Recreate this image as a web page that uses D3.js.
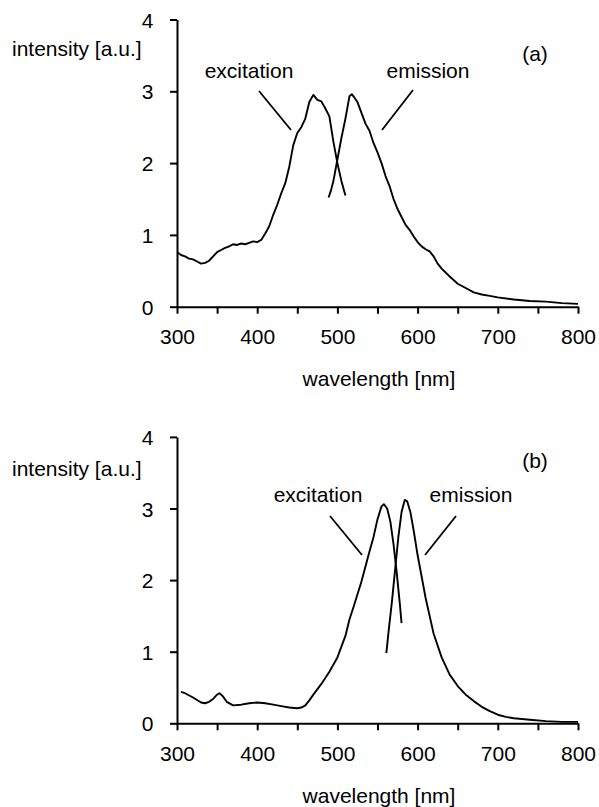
<!DOCTYPE html>
<meta charset="utf-8">
<head>
<script src="https://cdn.jsdelivr.net/npm/d3@7"></script>
<style>
body { margin: 0; background: #fff; }
svg text { font-family: "Liberation Sans", Arial, sans-serif; font-size: 21px; fill: #000; }
</style>
</head>
<body>
<svg id="chart"></svg>
<script>
// axis ticks
var xTicks = [300, 350, 400, 450, 500, 550, 600, 650, 700, 750, 800];
var yTicks = [0, 1, 2, 3, 4];

// panel (a)
var aExWl  = [300, 305, 310, 315, 320, 325, 330, 335, 340, 345, 350, 355, 360, 365, 370, 375, 380, 385, 390, 395, 400, 405, 410, 415, 420, 425, 430, 435, 440, 445, 450, 455, 460, 465, 470, 475, 480, 485, 490, 495, 500, 505, 510];
var aExVal = [0.76, 0.72, 0.70, 0.67, 0.66, 0.63, 0.60, 0.61, 0.64, 0.70, 0.76, 0.79, 0.82, 0.84, 0.87, 0.86, 0.88, 0.87, 0.89, 0.91, 0.90, 0.93, 1.02, 1.12, 1.28, 1.42, 1.58, 1.72, 1.95, 2.25, 2.42, 2.50, 2.62, 2.85, 2.95, 2.88, 2.86, 2.76, 2.65, 2.30, 2.00, 1.75, 1.55];
var aEmWl  = [489, 492, 495, 500, 505, 510, 515, 518, 520, 525, 530, 535, 540, 545, 550, 555, 560, 565, 570, 575, 580, 585, 590, 595, 600, 605, 610, 615, 620, 625, 630, 640, 650, 660, 670, 680, 690, 700, 720, 740, 760, 780, 800];
var aEmVal = [1.52, 1.62, 1.75, 2.05, 2.35, 2.62, 2.93, 2.96, 2.93, 2.85, 2.70, 2.55, 2.45, 2.28, 2.15, 2.00, 1.82, 1.68, 1.50, 1.36, 1.25, 1.14, 1.07, 0.98, 0.90, 0.84, 0.80, 0.77, 0.70, 0.60, 0.53, 0.42, 0.32, 0.26, 0.20, 0.17, 0.15, 0.13, 0.10, 0.08, 0.07, 0.05, 0.04];

// panel (b)
var bExWl  = [305, 310, 320, 330, 335, 340, 345, 350, 353, 357, 362, 370, 380, 390, 400, 410, 420, 430, 440, 450, 455, 460, 465, 470, 480, 490, 500, 510, 515, 520, 530, 540, 545, 550, 555, 558, 562, 566, 570, 574, 578, 580];
var bExVal = [0.44, 0.42, 0.36, 0.29, 0.28, 0.30, 0.34, 0.40, 0.42, 0.38, 0.30, 0.25, 0.26, 0.28, 0.29, 0.28, 0.26, 0.24, 0.22, 0.21, 0.22, 0.25, 0.32, 0.40, 0.55, 0.72, 0.92, 1.22, 1.45, 1.62, 1.98, 2.40, 2.60, 2.85, 3.03, 3.06, 3.00, 2.82, 2.50, 2.10, 1.65, 1.40];
var bEmWl  = [561, 564, 568, 572, 576, 580, 584, 587, 591, 595, 600, 605, 610, 615, 620, 630, 640, 650, 660, 670, 680, 690, 700, 710, 720, 740, 760, 780, 800];
var bEmVal = [0.98, 1.30, 1.70, 2.15, 2.60, 2.95, 3.12, 3.10, 2.95, 2.70, 2.35, 2.05, 1.75, 1.50, 1.25, 0.92, 0.68, 0.52, 0.40, 0.31, 0.23, 0.17, 0.12, 0.09, 0.07, 0.05, 0.03, 0.02, 0.02];

var width = 599, height = 807;
var svg = d3.select("#chart").attr("width", width).attr("height", height);

var x = d3.scaleLinear().domain([300, 800]).range([177, 578]);

var panels = [
  { tag: "(a)", y0: 306.7, y1: 19.5, ex: [aExWl, aExVal], em: [aEmWl, aEmVal],
    exLabel: [249, 78], exLine: [[259, 91], [291, 130]],
    emLabel: [428, 78], emLine: [[413, 90], [382, 130]], tagPos: [535, 61], yLab: 56 },
  { tag: "(b)", y0: 723.3, y1: 436.9, ex: [bExWl, bExVal], em: [bEmWl, bEmVal],
    exLabel: [318, 502], exLine: [[330, 516], [362, 555]],
    emLabel: [471, 502], emLine: [[456, 516], [425, 555]], tagPos: [535, 468], yLab: 476 }
];

panels.forEach(function(p) {
  var y = d3.scaleLinear().domain([0, 4]).range([p.y0, p.y1]);
  var g = svg.append("g");

  var xAxis = g.append("g")
    .attr("transform", "translate(0," + p.y0 + ")")
    .call(d3.axisBottom(x).tickValues(xTicks).tickSize(7).tickSizeOuter(0)
      .tickFormat(function(d) { return d % 100 === 0 ? d : ""; }));
  xAxis.selectAll("text").attr("dy", null).attr("y", 37.5);

  var yAxis = g.append("g")
    .attr("transform", "translate(" + x(300) + ",0)")
    .call(d3.axisLeft(y).tickValues(yTicks).tickSize(7).tickSizeOuter(0)
      .tickFormat(d3.format("d")));
  yAxis.selectAll("text").attr("x", -23.5).attr("dy", "0.36em");

  g.selectAll(".domain").attr("stroke", "#000").attr("stroke-width", 2);
  g.selectAll(".tick line").attr("stroke", "#000").attr("stroke-width", 2);
  g.selectAll(".tick text").style("font-size", "21px").attr("fill", "#000");

  var line = d3.line()
    .x(function(d) { return x(d[0]); })
    .y(function(d) { return y(d[1]); });

  [p.ex, p.em].forEach(function(s) {
    g.append("path")
      .datum(d3.zip(s[0], s[1]))
      .attr("fill", "none")
      .attr("stroke", "#000")
      .attr("stroke-width", 1.9)
      .attr("stroke-linejoin", "round")
      .attr("d", line);
  });

  g.append("text").attr("x", 12).attr("y", p.yLab).text("intensity [a.u.]");
  g.append("text").attr("x", p.tagPos[0]).attr("y", p.tagPos[1]).attr("text-anchor", "middle").text(p.tag);
  g.append("text").attr("x", p.exLabel[0]).attr("y", p.exLabel[1]).attr("text-anchor", "middle").text("excitation");
  g.append("text").attr("x", p.emLabel[0]).attr("y", p.emLabel[1]).attr("text-anchor", "middle").text("emission");
  [p.exLine, p.emLine].forEach(function(l) {
    g.append("line")
      .attr("x1", l[0][0]).attr("y1", l[0][1]).attr("x2", l[1][0]).attr("y2", l[1][1])
      .attr("stroke", "#000").attr("stroke-width", 1.8);
  });
  g.append("text").attr("x", 379).attr("y", p.y0 + 79.5).attr("text-anchor", "middle").text("wavelength [nm]");
});
</script>
</body>
